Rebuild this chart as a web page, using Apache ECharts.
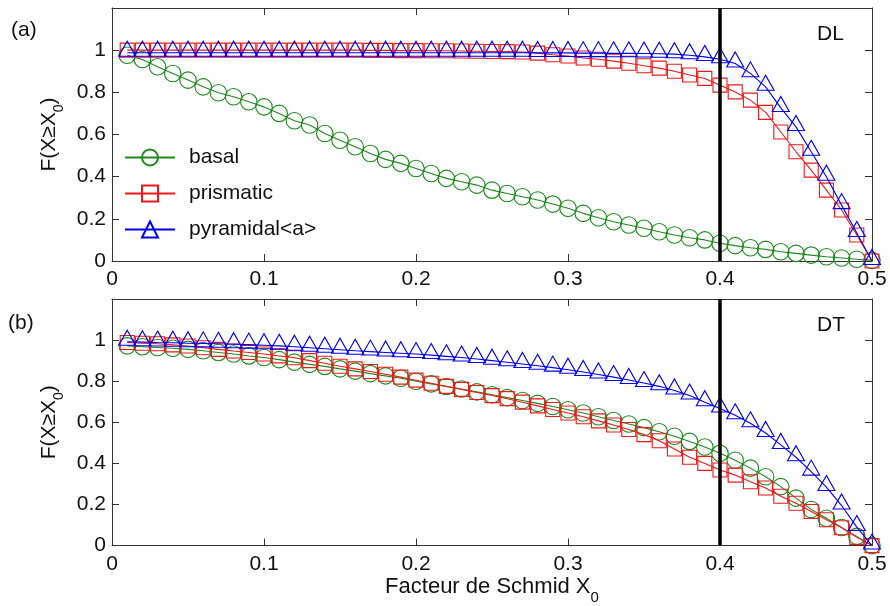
<!DOCTYPE html>
<html><head><meta charset="utf-8">
<script src="https://cdn.jsdelivr.net/npm/echarts@6/dist/echarts.min.js"></script>
<style>html,body{margin:0;padding:0;background:#fff}#c{width:890px;height:606px}</style>
</head><body><div id="c"></div>
<script>
// ---- data ----
const xs = [0.01,0.02,0.03,0.04,0.05,0.06,0.07,0.08,0.09,0.10,
            0.11,0.12,0.13,0.14,0.15,0.16,0.17,0.18,0.19,0.20,
            0.21,0.22,0.23,0.24,0.25,0.26,0.27,0.28,0.29,0.30,
            0.31,0.32,0.33,0.34,0.35,0.36,0.37,0.38,0.39,0.40,
            0.41,0.42,0.43,0.44,0.45,0.46,0.47,0.48,0.49,0.50];
const seriesNames = ['basal','prismatic','pyramidal<a>'];
// (a) DL
const basalDL = [0.976,0.956,0.921,0.889,0.858,0.826,0.798,0.779,0.755,0.731,
                 0.700,0.665,0.645,0.605,0.573,0.542,0.510,0.482,0.463,0.439,
                 0.415,0.392,0.376,0.360,0.336,0.320,0.305,0.289,0.270,0.250,
                 0.226,0.205,0.186,0.171,0.155,0.139,0.123,0.110,0.100,0.084,
                 0.073,0.063,0.055,0.044,0.036,0.028,0.020,0.014,0.008,0.003];
const prismDL = [1.000,1.000,1.000,1.000,1.000,1.000,1.000,1.000,1.000,1.000,
                 1.000,1.000,1.000,1.000,1.000,1.000,0.999,0.999,0.998,0.998,
                 0.997,0.997,0.996,0.995,0.994,0.993,0.991,0.986,0.978,0.972,
                 0.963,0.957,0.948,0.938,0.926,0.915,0.900,0.882,0.866,0.834,
                 0.802,0.763,0.705,0.612,0.518,0.431,0.336,0.242,0.123,0.000];
const pyrDL   = [0.988,0.988,0.988,0.988,0.988,0.988,0.988,0.988,0.988,0.988,
                 0.988,0.988,0.988,0.988,0.988,0.988,0.988,0.988,0.988,0.988,
                 0.988,0.988,0.988,0.988,0.988,0.988,0.988,0.987,0.987,0.987,
                 0.986,0.986,0.985,0.985,0.984,0.983,0.981,0.976,0.968,0.957,
                 0.937,0.890,0.826,0.726,0.636,0.518,0.400,0.265,0.133,0.000];
// (b) DT
const basalDT = [0.972,0.968,0.964,0.960,0.955,0.948,0.940,0.932,0.923,0.915,
                 0.905,0.893,0.882,0.872,0.860,0.849,0.837,0.826,0.814,0.800,
                 0.787,0.774,0.762,0.748,0.734,0.720,0.706,0.692,0.677,0.661,
                 0.645,0.627,0.609,0.592,0.574,0.554,0.532,0.507,0.480,0.449,
                 0.415,0.377,0.335,0.287,0.231,0.176,0.133,0.088,0.045,0.000];
const prismDT = [0.988,0.985,0.982,0.977,0.971,0.963,0.955,0.947,0.940,0.932,
                 0.923,0.914,0.900,0.887,0.873,0.860,0.847,0.834,0.820,0.805,
                 0.790,0.775,0.760,0.745,0.730,0.715,0.698,0.680,0.662,0.645,
                 0.627,0.607,0.587,0.565,0.540,0.510,0.470,0.430,0.400,0.368,
                 0.343,0.311,0.280,0.240,0.206,0.166,0.126,0.087,0.040,0.000];
const pyrDT   = [0.992,0.990,0.988,0.987,0.985,0.984,0.982,0.980,0.978,0.975,
                 0.972,0.968,0.963,0.958,0.953,0.948,0.944,0.940,0.936,0.932,
                 0.927,0.921,0.915,0.908,0.900,0.892,0.884,0.875,0.866,0.856,
                 0.845,0.833,0.820,0.806,0.791,0.775,0.755,0.730,0.698,0.667,
                 0.634,0.595,0.548,0.490,0.430,0.360,0.285,0.195,0.090,0.000];
const thresholdX = [0.4];
const xTickInterval = 0.1, yTickInterval = 0.2;
const panelLabels = ['(a)','(b)'];
const panelTags = ['DL','DT'];

// ---- styling ----
const FONT = "'Liberation Sans', Arial, Helvetica, sans-serif";
const COLORS = ['#1b8a1b','#f01818','#0000f0'];
const AX = '#333';
const pair = (vals) => xs.map((x,i)=>[x, vals[i]]);

const grids = [
  {left:112, right:18, top:8, height:253},
  {left:112, right:18, top:299, height:247}
];

function xAx(gi, pos, labels, name){
  return {
    type:'value', gridIndex:gi, position:pos, min:0, max:0.5, interval:xTickInterval,
    axisLine:{show:true, onZero:false, lineStyle:{color:AX, width:1}},
    axisTick:{show:true, inside:true, length:7, lineStyle:{color:AX}},
    axisLabel:{show:labels, margin:8, color:'#111', fontSize:21, fontFamily:FONT,
               formatter:v=>String(+v.toFixed(2))},
    splitLine:{show:false},
    name: name || '', nameLocation:'middle', nameGap: 20,
    nameTextStyle:{color:'#111', fontFamily:FONT,
      rich:{a:{fontSize:22, fontFamily:FONT, color:'#111'},
            s:{fontSize:15, fontFamily:FONT, color:'#111', padding:[22,0,0,0]}}}
  };
}
function yAx(gi, pos, labels){
  return {
    type:'value', gridIndex:gi, position:pos, min:0, max:1.2, interval:yTickInterval,
    axisLine:{show:true, onZero:false, lineStyle:{color:AX, width:1}},
    axisTick:{show:true, inside:true, length:7, lineStyle:{color:AX}},
    axisLabel:{show:labels, margin:6, color:'#111', fontSize:21, fontFamily:FONT,
               formatter:v=> v>1.1 ? '' : String(+v.toFixed(1))},
    splitLine:{show:false},
    name: labels ? '{a|F(X≥X}{s|0}{a|)}' : '', nameLocation:'middle', nameGap:42,
    nameTextStyle:{color:'#111', fontFamily:FONT,
      rich:{a:{fontSize:21, fontFamily:FONT, color:'#111'},
            s:{fontSize:14, fontFamily:FONT, color:'#111', padding:[20,0,0,0]}}}
  };
}

const xAxes = [xAx(0,'bottom',true), xAx(0,'top',false),
               xAx(1,'bottom',true,'{a|Facteur de Schmid X}{s|0}'), xAx(1,'top',false)];
const yAxes = [yAx(0,'left',true), yAx(0,'right',false), yAx(1,'left',true), yAx(1,'right',false)];

const SYM = [
  {symbol:'circle', size:16.5, offset:[0,0]},
  {symbol:'rect', size:14, offset:[0,0]},
  {symbol:'triangle', size:[17,15], offset:[0,-4]}
];

function mk(k, vals, panel, withMark){
  const s = {
    type:'line', name:seriesNames[k], data:pair(vals),
    xAxisIndex: panel*2, yAxisIndex: panel*2,
    symbol:SYM[k].symbol, symbolSize:SYM[k].size, symbolOffset:SYM[k].offset,
    showSymbol:true, showAllSymbol:true,
    lineStyle:{color:COLORS[k], width:1.1},
    itemStyle:{color:'rgba(0,0,0,0)', borderColor:COLORS[k], borderWidth:1.1},
    emphasis:{disabled:true}, z:2+k
  };
  if (withMark){
    s.markLine = {silent:true, symbol:['none','none'], label:{show:false},
      lineStyle:{color:'#000', width:3.5, type:'solid'},
      data: thresholdX.map(v=>({xAxis:v})), z:10};
  }
  return s;
}

const series = [
  mk(0, basalDL, 0, false), mk(1, prismDL, 0, false), mk(2, pyrDL, 0, true),
  mk(0, basalDT, 1, false), mk(1, prismDT, 1, false), mk(2, pyrDT, 1, true)
];

const txt = (t, x, y, align) => ({type:'text', left:x, top:y,
  style:{text:t, fill:'#111', font:"21px " + FONT, textAlign:align||'left'}});

const option = {
  animation:false,
  backgroundColor:'#fff',
  grid: grids,
  xAxis: xAxes,
  yAxis: yAxes,
  legend:{
    data: seriesNames, orient:'vertical', left:124, top:147, padding:0,
    itemWidth:50, itemHeight:20, itemGap:15, selectedMode:false,
    textStyle:{fontSize:21, fontFamily:FONT, color:'#111', padding:[0,0,0,9]}
  },
  graphic:[
    txt(panelLabels[0], 11, 20), txt(panelLabels[1], 8, 313),
    txt(panelTags[0], 817, 24), txt(panelTags[1], 817, 315)
  ],
  series: series
};
const chart = echarts.init(document.getElementById('c'), null, {renderer:'canvas'});
chart.setOption(option);
</script></body></html>
